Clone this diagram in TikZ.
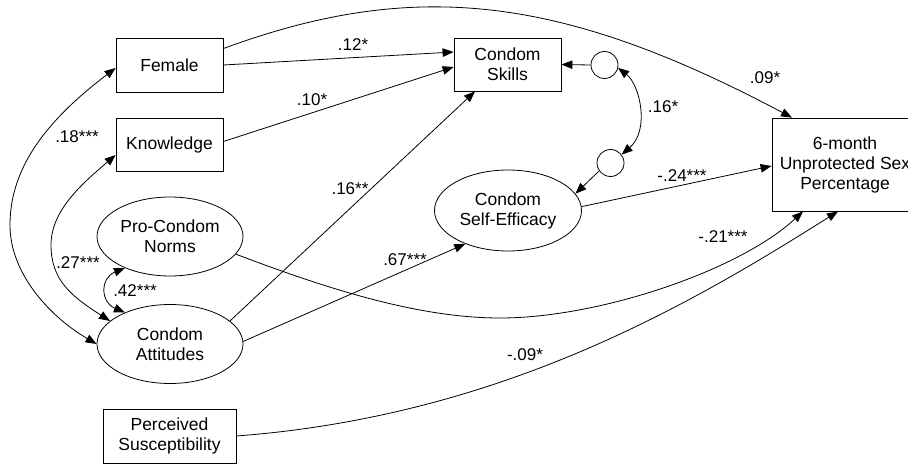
\documentclass[tikz,border=0pt]{standalone}
\usepackage{fontspec}
\setmainfont{Liberation Sans}
\usetikzlibrary{shapes.geometric,arrows.meta,calc}
\begin{document}
\begin{tikzpicture}[x=1pt,y=1pt,line width=0.8pt,
  every node/.style={font=\fontsize{17.5}{20}\selectfont},
  box/.style={draw, rectangle, align=center, inner sep=0pt},
  oval/.style={draw, ellipse, align=center, inner sep=0pt, minimum width=146pt, minimum height=79pt},
  resid/.style={draw, circle, inner sep=0pt, minimum size=27pt},
  arr/.style={-{Triangle[length=11pt,width=8.5pt]}},
  dbl/.style={{Triangle[length=11pt,width=8.5pt]}-{Triangle[length=11pt,width=8.5pt]}},
  lbl/.style={inner sep=0pt, font=\fontsize{17}{20}\selectfont}
]
\useasboundingbox (0,0) rectangle (908,-465);
\clip (0,0) rectangle (908,-465);

% nodes
\node[box, minimum width=107pt, minimum height=54pt] (female) at (169.5,-65) {Female};
\node[box, minimum width=107pt, minimum height=53pt] (know) at (169.5,-144.5) {Knowledge};
\node[oval] (norms) at (170,-236.5) {Pro-Condom\\Norms};
\node[oval] (att) at (170,-344) {Condom\\Attitudes};
\node[box, minimum width=133pt, minimum height=54pt] (perc) at (169.5,-436) {Perceived\\Susceptibility};
\node[box, minimum width=107pt, minimum height=53pt] (skills) at (507.5,-64.5) {Condom\\Skills};
\node[oval, minimum width=147pt, minimum height=81pt] (self) at (508,-210.5) {Condom\\Self-Efficacy};
\node[box, minimum width=146pt, minimum height=93pt] (out) at (845,-164.5) {6-month\\Unprotected Sex\\Percentage};
\node[resid] (r1) at (604.5,-65) {};
\node[resid] (r2) at (610.5,-163) {};

% straight paths
\draw[arr] (female.east) -- ([yshift=12.5pt]skills.west);
\draw[arr] ([yshift=3pt]know.east) -- ([yshift=-2.5pt]skills.west);
\draw[arr] (att.21) -- ([xshift=-32.5pt]skills.south);
\draw[arr] (att.2) -- (self.218);
\draw[arr] (self.3) -- ([yshift=-1.5pt]out.west);
\draw[arr] (r1.west) -- (skills.east);
\draw[arr] (r2.215) -- (self.14);

% curved paths
\draw[arr] (female.17) .. controls (415,22) and (562,4.5) .. ([xshift=-53pt]out.north);
\draw[arr] (norms.-15) .. controls (330,-290) and (420,-318) .. (500,-318)
  .. controls (600,-318) and (740,-270) .. ([xshift=-42pt]out.south);
\draw[arr] (perc.east) .. controls (500,-416) and (688,-306) .. ([xshift=-7pt]out.south);

% covariances
\draw[dbl] ([yshift=-3pt]female.west) .. controls (50,-118) and (10,-165) .. (10,-225)
  .. controls (10,-275) and (52,-318) .. (att.west);
\draw[dbl] ([yshift=-10.5pt]know.west) .. controls (83,-183) and (51,-210) .. (51,-245)
  .. controls (51,-280) and (71,-296) .. (att.159);
\draw[dbl] (norms.215) .. controls (100,-278) and (100,-302) .. (att.145);
\draw[dbl] (r1.-12) .. controls (640,-85) and (650,-130) .. (r2.37);

% labels
\node[lbl] (l1) at (353,-45) {.12*};
\node[lbl] (l2) at (312,-100) {.10*};
\node[lbl] (l3) at (350,-189) {.16**};
\node[lbl] (l4) at (405,-260) {.67***};
\node[lbl] (l5) at (765,-78) {.09*};
\node[lbl] (l6) at (663,-107) {.16*};
\node[lbl] (l7) at (682,-176) {-.24***};
\node[lbl] (l8) at (723,-237) {-.21***};
\node[lbl] (l9) at (525,-355) {-.09*};
\node[lbl] (l10) at (77,-137) {.18***};
\node[lbl] (l11) at (78,-263) {.27***};
\node[lbl] (l12) at (135,-291) {.42***};
\end{tikzpicture}
\end{document}
